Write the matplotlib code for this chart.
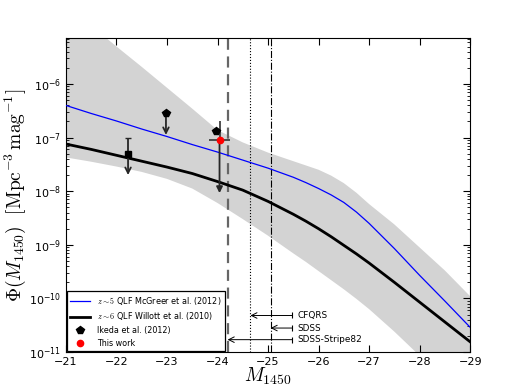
import numpy as np
import matplotlib
matplotlib.use('Agg')
from matplotlib import pyplot as plt

plt.rcParams['mathtext.fontset'] = 'cm'
plt.rcParams['font.family'] = 'DejaVu Sans'

# magnitude grid and curves (log10 of Phi)
mag = [-21, -21.5, -22, -22.5, -23, -23.5, -24, -24.5, -25, -25.5, -25.75,
       -26, -26.25, -26.5, -26.75, -27, -27.5, -28, -28.5, -29]
log_mcgreer = [-6.40, -6.55, -6.69, -6.84, -6.98, -7.13, -7.27, -7.42, -7.57,
               -7.74, -7.84, -7.95, -8.07, -8.21, -8.39, -8.60, -9.07, -9.57,
               -10.05, -10.54]
log_willott = [-7.12, -7.22, -7.33, -7.44, -7.55, -7.67, -7.82, -7.98, -8.19,
               -8.43, -8.56, -8.70, -8.85, -9.01, -9.17, -9.34, -9.70, -10.07,
               -10.44, -10.81]
log_band_hi = [-4.52, -4.91, -5.30, -5.68, -6.07, -6.46, -6.86, -7.09, -7.28,
               -7.44, -7.52, -7.60, -7.71, -7.85, -8.03, -8.24, -8.62, -9.05,
               -9.48, -9.96]
log_band_lo = [-7.37, -7.45, -7.54, -7.64, -7.77, -7.95, -8.22, -8.52, -8.83,
               -9.16, -9.32, -9.49, -9.66, -9.83, -10.01, -10.20, -10.62,
               -11.07, -11.55, -12.0]

# data points
sq_mag, sq_phi, sq_hi, sq_lim = -22.23, 4.9e-8, 1.0e-7, 2.0e-8
ikeda_mag = [-22.98, -23.97]
ikeda_phi = [2.85e-7, 1.32e-7]
ikeda_lim = [1.12e-7, None]
this_mag, this_phi, this_hi, this_lim, this_dm = -24.04, 9.0e-8, 2.05e-7, 9.2e-9, 0.21

# survey limits
survey_names = ['CFQRS', 'SDSS', 'SDSS-Stripe82']
survey_mag = [-24.65, -25.05, -24.20]
survey_y = [4.8e-11, 2.8e-11, 1.7e-11]
survey_start = -25.48

fig = plt.figure(figsize=(5.23, 3.92), dpi=100)
ax = fig.add_subplot(111)

m = np.array(mag)
ax.fill_between(m, 10**np.array(log_band_lo), 10**np.array(log_band_hi),
                color='#d3d3d3', lw=0, zorder=1)
ax.plot(m, 10**np.array(log_mcgreer), color='blue', lw=0.9, zorder=3,
        label=r'$z\sim5$ QLF McGreer et al. (2012)')
ax.plot(m, 10**np.array(log_willott), color='black', lw=2, zorder=3,
        label=r'$z\sim6$ QLF Willott et al. (2010)')

# vertical survey limit lines
ax.axvline(survey_mag[2], color='0.4', ls='--', lw=1.6, dashes=(5, 3), zorder=2)
ax.axvline(survey_mag[0], color='black', ls=':', lw=0.8, zorder=2)
ax.axvline(survey_mag[1], color='black', ls='-.', lw=0.8, zorder=2)

for name, xm, yv in zip(survey_names, survey_mag, survey_y):
    ax.annotate('', xy=(xm, yv), xytext=(survey_start, yv),
                arrowprops=dict(arrowstyle='->', color='black', lw=0.7,
                                shrinkA=0, shrinkB=0), zorder=4)
    ax.plot([survey_start], [yv], marker='|', color='black', ms=5, mew=0.8, zorder=4)
    ax.text(survey_start - 0.1, yv, name, fontsize=6.4, va='center', ha='left')

# square point with upper error and limit arrow
ax.errorbar([sq_mag], [sq_phi], yerr=[[0], [sq_hi - sq_phi]], fmt='s', color='black',
            ms=4, ecolor='0.15', elinewidth=1.3, capsize=2.5, zorder=5)
ax.annotate('', xy=(sq_mag, sq_lim), xytext=(sq_mag, sq_phi),
            arrowprops=dict(arrowstyle='->', color='0.15', lw=1.3,
                            shrinkA=0, shrinkB=0), zorder=5)

# Ikeda et al.
ax.plot(ikeda_mag, ikeda_phi, 'p', color='black', ms=5.5, zorder=6,
        label='Ikeda et al. (2012)')
for xm, yv, lim in zip(ikeda_mag, ikeda_phi, ikeda_lim):
    if lim is not None:
        ax.annotate('', xy=(xm, lim), xytext=(xm, yv),
                    arrowprops=dict(arrowstyle='->', color='0.15', lw=1.3,
                                    shrinkA=0, shrinkB=0), zorder=5)

# this work
ax.errorbar([this_mag], [this_phi], xerr=this_dm, yerr=[[0], [this_hi - this_phi]],
            fmt='none', ecolor='0.25', elinewidth=1.3, capsize=0, zorder=5)
ax.annotate('', xy=(this_mag, this_lim), xytext=(this_mag, this_phi),
            arrowprops=dict(arrowstyle='-|>', color='0.15', lw=1.3,
                            mutation_scale=9, shrinkA=0, shrinkB=0), zorder=5)
ax.plot([this_mag], [this_phi], 'o', color='red', ms=4.5, zorder=7,
        label='This work')

ax.set_yscale('log')
ax.set_xlim(-21, -29)
ax.set_ylim(1e-11, 7.2e-6)
ax.set_xticks(np.arange(-21, -30, -1))
ax.tick_params(which='both', direction='in', top=True, right=True, labelsize=8)
ax.tick_params(which='major', length=5, width=0.8)
ax.tick_params(which='minor', length=2.5, width=0.6)
ax.set_xlabel(r'$M_{1450}$', fontsize=14, labelpad=-1)
ax.set_ylabel(r'$\Phi(M_{1450})\ \ [{\rm Mpc^{-3}\,mag^{-1}}]$', fontsize=14, labelpad=1)

leg = ax.legend(loc='lower left', fontsize=5.8, numpoints=1, handlelength=2.5,
                borderaxespad=0.15, fancybox=False, framealpha=1,
                edgecolor='black', labelspacing=0.45)
leg.get_frame().set_linewidth(0.9)

fig.subplots_adjust(left=0.126, right=0.899, bottom=0.102, top=0.903)
fig.savefig('out.png', dpi=100)
